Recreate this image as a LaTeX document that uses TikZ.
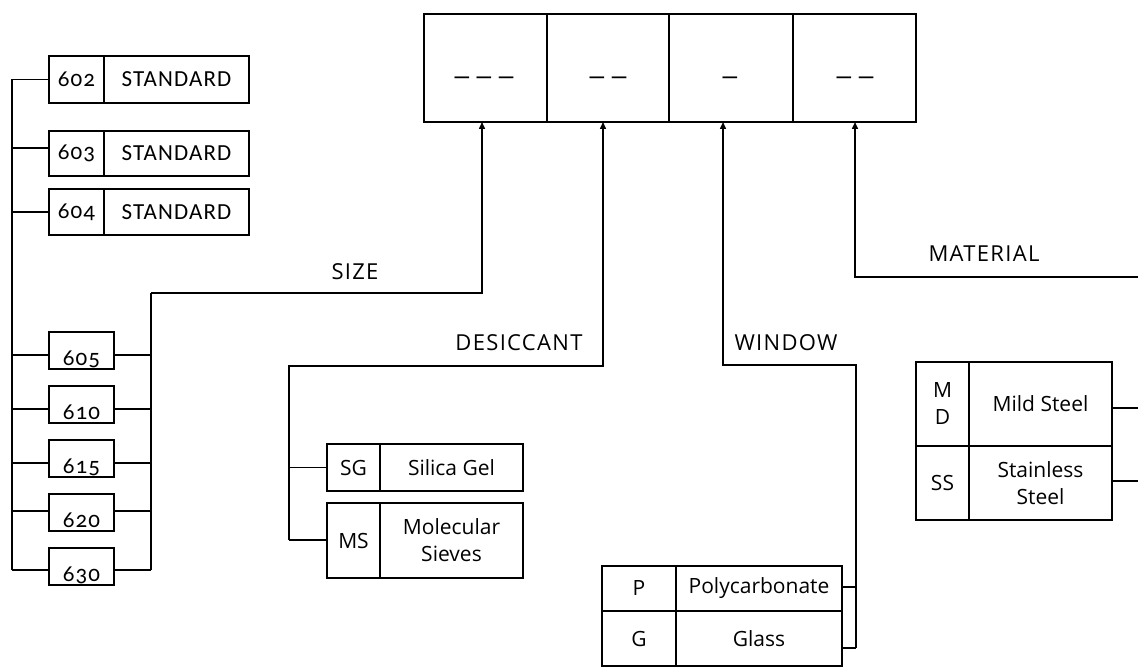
\documentclass[tikz,border=0pt]{standalone}
\usepackage{fontspec}
\setmainfont{Open Sans}
\newfontfamily\candfont[Numbers=OldStyle, LetterSpace=5]{Carlito}
\newfontfamily\dashfont{Carlito}
\newfontfamily\lblfont[LetterSpace=6]{Open Sans}
\usetikzlibrary{arrows.meta}
\begin{document}
\begin{tikzpicture}[x=1pt,y=-1pt,
  bx/.style={draw, line width=1.9pt, inner sep=0pt, outer sep=0pt, align=center,
             font=\fontsize{21}{27}\selectfont},
  cb/.style={bx, font=\candfont\fontsize{23}{26}\selectfont},
  conn/.style={line width=1.5pt},
  arr/.style={conn, -{Triangle[length=7pt,width=6pt]}},
  lbl/.style={inner sep=0pt, font=\lblfont\fontsize{22}{24}\selectfont},
  numlbl/.style={inner sep=0pt, anchor=base, font=\candfont\fontsize{23}{26}\selectfont},
  dashtxt/.style={inner sep=0pt, font=\dashfont\bfseries\fontsize{20}{22}\selectfont}
]
\useasboundingbox (0,0) rectangle (1138,668);

% top code cells
\node[bx, minimum width=123pt, minimum height=108pt] (c1) at (485.5,68) {};
\node[bx, minimum width=122pt, minimum height=108pt] (c2) at (608,68) {};
\node[bx, minimum width=124pt, minimum height=108pt] (c3) at (731,68) {};
\node[bx, minimum width=123pt, minimum height=108pt] (c4) at (854.5,68) {};
\node[dashtxt] (t1) at (484,80) {—\hspace{4pt}—\hspace{4pt}—};
\node[dashtxt] (t2) at (608,80) {—\hspace{4pt}—};
\node[dashtxt] (t3) at (730,80) {—};
\node[dashtxt] (t4) at (855,80) {—\hspace{4pt}—};

% standard sizes
\node[cb, minimum width=55pt, minimum height=47pt] (n602) at (76.5,79.5) {602};
\node[cb, minimum width=145pt, minimum height=47pt] (s602) at (176.5,79.5) {STANDARD};
\node[cb, minimum width=55pt, minimum height=45pt] (n603) at (76.5,153.5) {603};
\node[cb, minimum width=145pt, minimum height=45pt] (s603) at (176.5,153.5) {STANDARD};
\node[cb, minimum width=55pt, minimum height=46pt] (n604) at (76.5,212) {604};
\node[cb, minimum width=145pt, minimum height=46pt] (s604) at (176.5,212) {STANDARD};

% other sizes
\node[cb, minimum width=65pt, minimum height=37pt] (n605) at (81.5,350.5) {};
\node[cb, minimum width=65pt, minimum height=37pt] (n610) at (81.5,404.5) {};
\node[cb, minimum width=65pt, minimum height=37pt] (n615) at (81.5,458.5) {};
\node[cb, minimum width=65pt, minimum height=37pt] (n620) at (81.5,512.5) {};
\node[cb, minimum width=65pt, minimum height=37pt] (n630) at (81.5,566.5) {};
\node[numlbl] (l605) at (81.5,365) {605};
\node[numlbl] (l610) at (81.5,419) {610};
\node[numlbl] (l615) at (81.5,473) {615};
\node[numlbl] (l620) at (81.5,527) {620};
\node[numlbl] (l630) at (81.5,581) {630};

% left bus
\coordinate (lb602) at (12,79.5);
\coordinate (lb603) at (12,148);
\coordinate (lb604) at (12,212);
\coordinate (lb605) at (12,355);
\coordinate (lb610) at (12,409);
\coordinate (lb615) at (12,463);
\coordinate (lb620) at (12,511);
\coordinate (lb630) at (12,570);
\draw[conn] (lb602) -- (lb630);
\foreach \k in {602,603,604,605,610,615,620,630}
  \draw[conn] (lb\k) -- (n\k.west |- lb\k);

% right bus (size)
\coordinate (rbTop) at (151,293);
\coordinate (rbBot) at (151,570);
\draw[conn] (rbTop) -- (rbBot);
\foreach \k in {605,610,615,620,630}
  \draw[conn] (n\k.east |- lb\k) -- (rbTop |- lb\k);
\coordinate (sA) at (482,293);
\draw[arr] (rbTop) -- (sA) -- (sA |- c1.south);
\node[lbl] (lsize) at (355,272) {SIZE};

% desiccant
\node[bx, minimum width=53pt, minimum height=47pt] (sgA) at (353.5,467.5) {SG};
\node[bx, minimum width=143pt, minimum height=47pt] (sgB) at (451.5,467.5) {Silica Gel};
\node[bx, minimum width=53pt, minimum height=75pt] (msA) at (353.5,540.5) {MS};
\node[bx, minimum width=143pt, minimum height=75pt] (msB) at (451.5,540.5) {Molecular\\Sieves};
\coordinate (dBot) at (289,540);
\coordinate (dTop) at (289,366);
\coordinate (dSG) at (289,467.5);
\coordinate (dC) at (603,366);
\draw[arr] (dBot) -- (dTop) -- (dC) -- (dC |- c2.south);
\draw[conn] (dSG) -- (sgA.west);
\draw[conn] (dBot) -- (msA.west |- dBot);
\node[lbl] (ldes) at (519,343) {DESICCANT};

% window
\node[bx, minimum width=74pt, minimum height=45pt] (pA) at (639,588.5) {P};
\node[bx, minimum width=166pt, minimum height=45pt] (pB) at (759,588.5) {Polycarbonate};
\node[bx, minimum width=74pt, minimum height=55pt] (gA) at (639,638.5) {G};
\node[bx, minimum width=166pt, minimum height=55pt] (gB) at (759,638.5) {Glass};
\coordinate (wA) at (723,365);
\coordinate (wB) at (856,365);
\coordinate (wP) at (856,587);
\coordinate (wG) at (856,648);
\draw[arr] (wG) -- (wB) -- (wA) -- (wA |- c3.south);
\draw[conn] (pB.east |- wP) -- (wP);
\draw[conn] (gB.east |- wG) -- (wG);
\node[lbl] (lwin) at (786,343) {WINDOW};

% material
\node[bx, minimum width=53pt, minimum height=84pt] (mdA) at (942.5,404) {M\\D};
\node[bx, minimum width=143pt, minimum height=84pt] (mdB) at (1040.5,404) {Mild Steel};
\node[bx, minimum width=53pt, minimum height=74pt] (ssA) at (942.5,483) {SS};
\node[bx, minimum width=143pt, minimum height=74pt] (ssB) at (1040.5,483) {Stainless\\Steel};
\coordinate (mR) at (1138,277);
\coordinate (mC) at (855,277);
\coordinate (mMD) at (1138,408);
\coordinate (mSS) at (1138,481);
\draw[arr] (mR) -- (mC) -- (mC |- c4.south);
\draw[conn] (mdB.east |- mMD) -- (mMD);
\draw[conn] (ssB.east |- mSS) -- (mSS);
\node[lbl] (lmat) at (984,254) {MATERIAL};
\end{tikzpicture}
\end{document}
